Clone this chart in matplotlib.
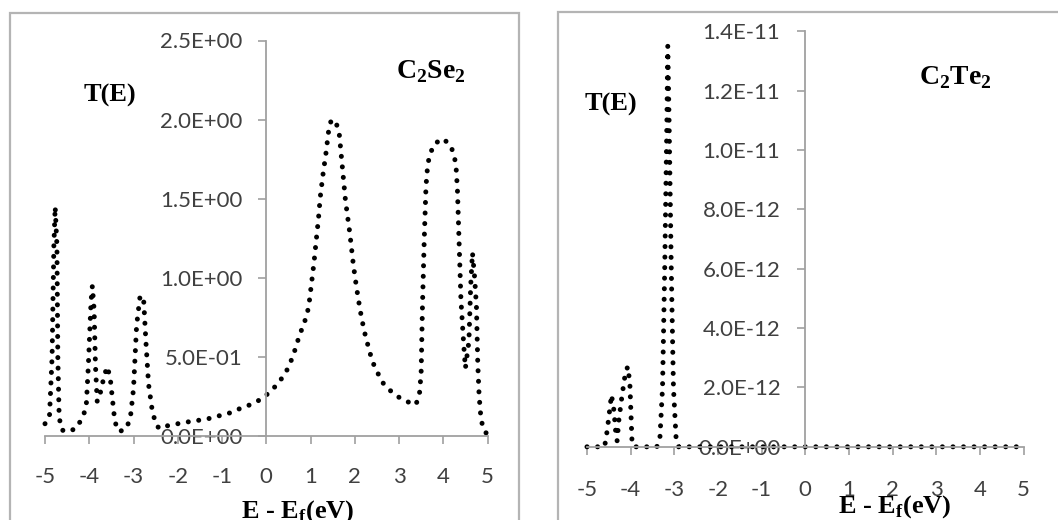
import matplotlib
matplotlib.use("Agg")
import matplotlib.pyplot as plt
from matplotlib.patches import Rectangle
from matplotlib.ticker import FuncFormatter

# C2Se2 : T(E)
e_se = [-5.00, -4.90, -4.84, -4.80, -4.77, -4.73, -4.71, -4.68, -4.62, -4.48,
        -4.30, -4.17, -4.07, -4.02, -3.96, -3.93, -3.89, -3.86, -3.82, -3.77,
        -3.68, -3.60, -3.53, -3.47, -3.42, -3.32, -3.16, -3.07, -3.00, -2.93,
        -2.85, -2.77, -2.72, -2.66, -2.58, -2.50, -2.42, -2.20, -2.00, -1.80,
        -1.60, -1.40, -1.20, -1.00, -0.80, -0.56, -0.36, -0.15, 0.04, 0.22,
        0.36, 0.47, 0.58, 0.66, 0.73, 0.82, 0.90, 0.96, 1.02, 1.08,
        1.13, 1.18, 1.22, 1.28, 1.35, 1.41, 1.47, 1.58, 1.65, 1.72,
        1.79, 1.89, 1.97, 2.04, 2.12, 2.21, 2.34, 2.42, 2.52, 2.63,
        2.80, 2.98, 3.18, 3.38, 3.46, 3.50, 3.53, 3.57, 3.61, 3.65,
        3.71, 3.81, 4.00, 4.17, 4.25, 4.29, 4.32, 4.36, 4.40, 4.46,
        4.50, 4.58, 4.62, 4.66, 4.71, 4.75, 4.78, 4.81, 4.85, 4.90, 4.98]
t_se = [0.08, 0.12, 0.50, 1.20, 1.45, 1.20, 0.50, 0.12, 0.04, 0.03,
        0.05, 0.11, 0.18, 0.45, 0.85, 0.95, 0.80, 0.45, 0.22, 0.25,
        0.36, 0.44, 0.38, 0.22, 0.09, 0.03, 0.05, 0.12, 0.30, 0.70,
        0.89, 0.86, 0.60, 0.33, 0.17, 0.08, 0.05, 0.07, 0.08, 0.09,
        0.10, 0.105, 0.12, 0.135, 0.15, 0.18, 0.20, 0.23, 0.27, 0.32,
        0.37, 0.42, 0.49, 0.555, 0.62, 0.69, 0.75, 0.82, 0.96, 1.10,
        1.24, 1.375, 1.51, 1.65, 1.79, 1.93, 2.00, 1.98, 1.91, 1.70,
        1.49, 1.28, 1.08, 0.94, 0.80, 0.67, 0.53, 0.46, 0.40, 0.34,
        0.29, 0.25, 0.22, 0.20, 0.26, 0.40, 0.82, 1.24, 1.58, 1.72,
        1.79, 1.85, 1.88, 1.835, 1.77, 1.70, 1.56, 1.21, 0.86, 0.59,
        0.43, 0.60, 0.95, 1.16, 1.00, 0.82, 0.46, 0.26, 0.12, 0.05, 0.017]

# C2Te2 : T(E) in units of 1e-12, right panel
e_te = [-5.00, -4.60, -4.56, -4.50, -4.44, -4.38, -4.35, -4.31, -4.27, -4.20,
        -4.13, -4.07, -4.02, -3.99, -3.97, -3.93, -3.40, -3.33, -3.27, -3.22,
        -3.17, -3.15, -3.12, -3.07, -3.02, -2.96, -2.90, 5.00]
t_te = [0.0, 0.0, 0.3, 1.0, 1.75, 1.2, 0.6, 0.2, 0.9, 1.7,
        2.4, 2.7, 2.2, 1.0, 0.2, 0.0, 0.0, 0.3, 2.0, 6.0,
        11.0, 13.5, 11.0, 6.0, 2.0, 0.3, 0.0, 0.0]
t_te = [v * 1e-12 for v in t_te]

x_ticks = list(range(-5, 6))
y_ticks_se = [0.0, 0.5, 1.0, 1.5, 2.0, 2.5]
y_ticks_te = [0, 2e-12, 4e-12, 6e-12, 8e-12, 1.0e-11, 1.2e-11, 1.4e-11]

plt.rcParams["axes.unicode_minus"] = False
plt.rcParams["mathtext.fontset"] = "custom"
plt.rcParams["mathtext.bf"] = "Liberation Serif:bold"
plt.rcParams["mathtext.rm"] = "Liberation Serif:bold"

W, H = 1058, 520
fig = plt.figure(figsize=(W / 100, H / 100), dpi=100)
fig.patch.set_facecolor("white")

def px_axes(x0, x1, ytop, ybot):
    return fig.add_axes([x0 / W, 1 - ybot / H, (x1 - x0) / W, (ybot - ytop) / H])

def ftext(x, y, s, **kw):
    fig.text(x / W, 1 - y / H, s, ha="center", va="center", **kw)

# chart borders
fig.add_artist(Rectangle((10 / W, -0.1), 509 / W, 1.1 - 13 / H, transform=fig.transFigure,
                         fill=False, ec="#b4b4b4", lw=1.6))
fig.add_artist(Rectangle((558 / W, -0.1), 0.6, 1.1 - 12 / H, transform=fig.transFigure,
                         fill=False, ec="#b4b4b4", lw=1.6))

axl = px_axes(45, 487.5, 40.5, 436.4)
axr = px_axes(587, 1023.6, 31.4, 446.8)

gray = "#a0a0a0"
for ax, xpad, ypad in [(axl, 16, 11), (axr, 18, 12)]:
    ax.set_facecolor("none")
    for s in ["top", "right"]:
        ax.spines[s].set_visible(False)
    ax.spines["left"].set_position(("data", 0))
    for s in ["left", "bottom"]:
        ax.spines[s].set_color(gray)
        ax.spines[s].set_linewidth(1.3)
    ax.set_xlim(-5, 5)
    ax.set_xticks(x_ticks)
    ax.tick_params(direction="out", length=6, width=1.2, color=gray,
                   labelsize=16, labelcolor="#404040")
    ax.tick_params(axis="x", pad=xpad)
    ax.tick_params(axis="y", pad=ypad)

dot = dict(color="black", lw=3.6, linestyle=(0, (0.01, 2.1)),
           dash_capstyle="round", clip_on=False)

axl.set_ylim(0, 2.5)
axl.set_yticks(y_ticks_se)
axl.yaxis.set_major_formatter(FuncFormatter(lambda v, p: f"{v:.1E}"))
axl.plot(e_se, t_se, **dot)

axr.set_ylim(0, 1.4e-11)
axr.set_yticks(y_ticks_te)
axr.yaxis.set_major_formatter(FuncFormatter(lambda v, p: f"{v:.1E}"))
axr.yaxis.get_offset_text().set_visible(False)
axr.plot(e_te, t_te, **dot)

for ax in [axl, axr]:
    for lab in ax.get_xticklabels() + ax.get_yticklabels():
        lab.set_family("Lato")

serif = dict(family="Liberation Serif", weight="bold", color="black")
ftext(110, 95, "T(E)", size=19, **serif)
ftext(611, 104, "T(E)", size=19, **serif)
ftext(431, 72, r"C$_{\mathbf{2}}$Se$_{\mathbf{2}}$", size=20, **serif)
ftext(955, 78, r"C$_{\mathbf{2}}$Te$_{\mathbf{2}}$", size=20, **serif)
ftext(298, 512, r"E - E$_{\mathbf{f}}$(eV)", size=19, **serif)
ftext(895, 507, r"E - E$_{\mathbf{f}}$(eV)", size=19, **serif)

fig.savefig("out.png", dpi=100)
